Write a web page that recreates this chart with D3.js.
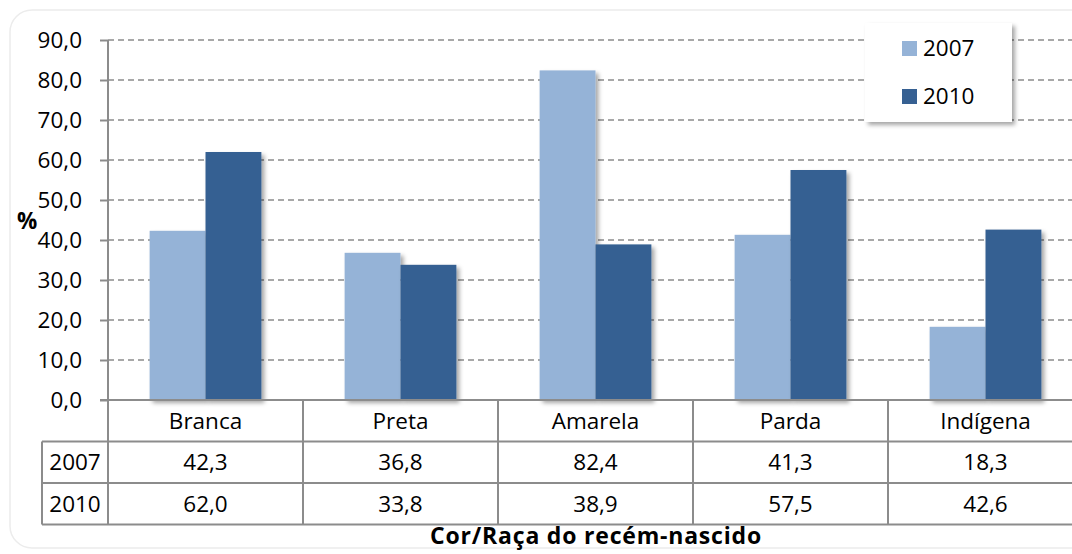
<!DOCTYPE html>
<html>
<head>
<meta charset="utf-8">
<script src="https://cdn.jsdelivr.net/npm/d3@7"></script>
<style>
  body { margin: 0; background: #fff; }
  svg { display: block; font-family: "Open Sans", "Noto Sans", sans-serif; }
</style>
</head>
<body>
<svg id="chart" width="1072" height="554"></svg>
<script>
// data
const categories = ['Branca', 'Preta', 'Amarela', 'Parda', 'Indígena']
const seriesNames = ['2007', '2010']
const values2007 = [42.3, 36.8, 82.4, 41.3, 18.3]
const values2010 = [62.0, 33.8, 38.9, 57.5, 42.6]
const yTicks = [0, 10, 20, 30, 40, 50, 60, 70, 80, 90]
const colors = ['#95b3d7', '#366092']

const series = [values2007, values2010]
const width = 1072, height = 554
const margin = {top: 40, left: 108}
const plotRight = 1083
const zeroY = 400
const rowH = 41.5
const fs = 22.5

const svg = d3.select('#chart')
const fmt = v => d3.format('.1f')(v).replace('.', ',')

const defs = svg.append('defs')
const f = defs.append('filter').attr('id', 'shadow')
    .attr('x', '-20%').attr('y', '-20%').attr('width', '150%').attr('height', '150%')
f.append('feDropShadow').attr('dx', 3).attr('dy', 3).attr('stdDeviation', 2)
    .attr('flood-color', '#000').attr('flood-opacity', 0.35)

// outer frame
svg.append('rect')
    .attr('x', 10).attr('y', 10).attr('width', 1090).attr('height', 538)
    .attr('rx', 22).attr('fill', '#fff').attr('stroke', '#ececec').attr('stroke-width', 1.5)

let yScale = d3.scaleLinear().domain([0, 90]).range([zeroY, margin.top])
let xScale = d3.scaleBand().domain(categories).range([margin.left, plotRight]).padding(0)
let xSub = d3.scaleBand().domain(seriesNames)
    .range([0, xScale.bandwidth()]).paddingOuter(0.745).paddingInner(0)

// gridlines
svg.append('g')
    .selectAll('line')
    .data(yTicks.filter(d => d > 0))
    .enter()
    .append('line')
    .attr('x1', margin.left).attr('x2', width)
    .attr('y1', d => yScale(d)).attr('y2', d => yScale(d))
    .attr('stroke', '#8c8c8c').attr('stroke-width', 1.5)
    .attr('stroke-dasharray', '6,4')

// bars
const groups = svg.append('g')
    .selectAll('g')
    .data(categories)
    .enter()
    .append('g')
    .attr('transform', d => `translate(${xScale(d)},0)`)

groups.selectAll('rect')
    .data((d, i) => seriesNames.map((s, j) => ({s, v: series[j][i], j})))
    .enter()
    .append('rect')
    .attr('x', d => xSub(d.s))
    .attr('y', d => yScale(d.v))
    .attr('width', xSub.bandwidth())
    .attr('height', d => zeroY - yScale(d.v))
    .attr('fill', d => colors[d.j])
    .attr('filter', 'url(#shadow)')

// y axis
const yAxis = d3.axisLeft(yScale).tickValues(yTicks).tickFormat(fmt).tickSize(8).tickPadding(18)
const yg = svg.append('g')
    .attr('transform', `translate(${margin.left},0)`)
    .call(yAxis)
yg.select('.domain').remove()
yg.selectAll('line').attr('stroke', '#8c8c8c').attr('stroke-width', 2)
yg.selectAll('text').attr('font-size', fs).attr('fill', '#000').attr('font-family', 'Open Sans')

// axis line and zero line
svg.append('line')
    .attr('x1', margin.left).attr('x2', margin.left)
    .attr('y1', margin.top).attr('y2', zeroY + rowH * 3)
    .attr('stroke', '#8c8c8c').attr('stroke-width', 2)
svg.append('line')
    .attr('x1', margin.left - 8).attr('x2', width)
    .attr('y1', zeroY).attr('y2', zeroY)
    .attr('stroke', '#8c8c8c').attr('stroke-width', 2)

// % label
svg.append('text')
    .attr('x', 17).attr('y', 229)
    .attr('font-size', fs).attr('font-weight', 'bold')
    .text('%')

// data table
const tbl = svg.append('g')
const tableLeft = 42
;[1, 2, 3].forEach(r => {
    tbl.append('line')
        .attr('x1', tableLeft).attr('x2', width)
        .attr('y1', zeroY + rowH * r).attr('y2', zeroY + rowH * r)
        .attr('stroke', '#8c8c8c').attr('stroke-width', 2)
})
tbl.append('line')
    .attr('x1', tableLeft).attr('x2', tableLeft)
    .attr('y1', zeroY + rowH).attr('y2', zeroY + rowH * 3)
    .attr('stroke', '#8c8c8c').attr('stroke-width', 2)
tbl.selectAll('.vline')
    .data(categories.slice(1))
    .enter()
    .append('line')
    .attr('class', 'vline')
    .attr('x1', d => xScale(d)).attr('x2', d => xScale(d))
    .attr('y1', zeroY).attr('y2', zeroY + rowH * 3)
    .attr('stroke', '#8c8c8c').attr('stroke-width', 2)

tbl.selectAll('.cat')
    .data(categories)
    .enter()
    .append('text')
    .attr('class', 'cat')
    .attr('x', d => xScale(d) + xScale.bandwidth() / 2)
    .attr('y', zeroY + rowH / 2 + 8)
    .attr('text-anchor', 'middle')
    .attr('font-size', fs)
    .text(d => d)

seriesNames.forEach((s, j) => {
    const yy = zeroY + rowH * (j + 1) + rowH / 2 + 8
    tbl.append('text')
        .attr('x', (tableLeft + margin.left) / 2).attr('y', yy)
        .attr('text-anchor', 'middle').attr('font-size', fs)
        .text(s)
    tbl.selectAll('.v' + s)
        .data(series[j])
        .enter()
        .append('text')
        .attr('x', (d, i) => xScale(categories[i]) + xScale.bandwidth() / 2)
        .attr('y', yy)
        .attr('text-anchor', 'middle').attr('font-size', fs)
        .text(d => fmt(d))
})

// x axis title
svg.append('text')
    .attr('x', 596).attr('y', 544)
    .attr('text-anchor', 'middle')
    .attr('font-size', 23).attr('font-weight', 'bold')
    .attr('letter-spacing', 0.8)
    .text('Cor/Raça do recém-nascido')

// legend
const lg = svg.append('g').attr('transform', 'translate(865,23)')
lg.append('rect')
    .attr('width', 147).attr('height', 99)
    .attr('fill', '#fff').attr('filter', 'url(#shadow)')
seriesNames.forEach((s, j) => {
    lg.append('rect')
        .attr('x', 37).attr('y', 18 + j * 48)
        .attr('width', 15).attr('height', 15)
        .attr('fill', colors[j])
    lg.append('text')
        .attr('x', 58).attr('y', 33 + j * 48)
        .attr('font-size', fs)
        .text(s)
})
</script>
</body>
</html>
